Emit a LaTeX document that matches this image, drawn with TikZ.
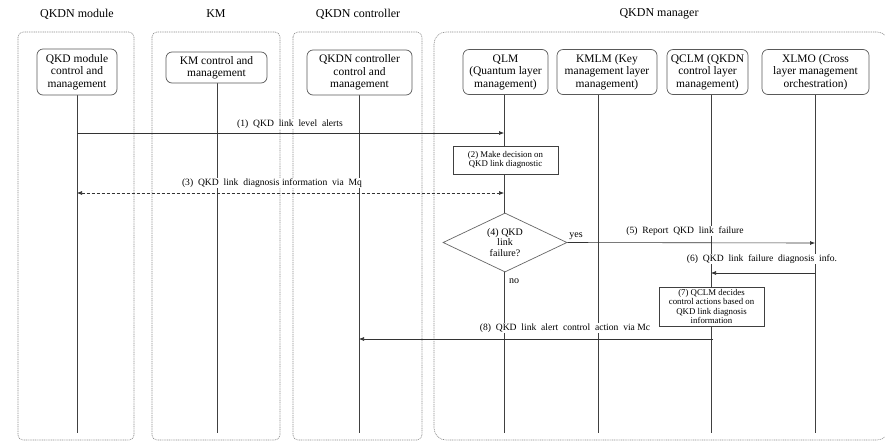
\documentclass[tikz,border=0pt]{standalone}
\usepackage{fontspec}
\setmainfont{Liberation Serif}
\usetikzlibrary{arrows.meta,shapes.geometric}

\begin{document}
\begin{tikzpicture}[x=1pt,y=-1pt,
  frame/.style={draw=black!45,dash pattern=on 1pt off 0.8pt,line width=0.6pt,rounded corners=5pt},
  actor/.style={draw=black!65,line width=0.7pt,rounded corners=6pt,fill=white,align=center,
    inner sep=0pt,font=\fontsize{11.5}{12.5}\selectfont},
  title/.style={font=\fontsize{12}{14}\selectfont},
  life/.style={draw=black!75,line width=0.6pt},
  msg/.style={draw=black!80,line width=0.6pt,-{Latex[length=5pt,width=4pt]}},
  lbl/.style={fill=white,inner sep=1pt,font=\fontsize{9.6}{11}\selectfont},
  stepbox/.style={draw=black!75,line width=0.6pt,fill=white,align=center,inner sep=0pt,
    font=\fontsize{8.8}{9.5}\selectfont}
]
\useasboundingbox (0,0) rectangle (885,440);
\fill[white] (0,0) rectangle (885,440);

% swim-lane frames
\draw[frame] (18,32) rectangle (134,440);
\draw[frame] (152,32) rectangle (280,440);
\draw[frame] (293,32) rectangle (422,440);
\draw[frame,rounded corners=12pt] (434,32) rectangle (889,440);

% lane titles
\node[title] (t1) at (77,14) {QKDN module};
\node[title] (t2) at (216,14) {KM};
\node[title] (t3) at (358,14) {QKDN controller};
\node[title] (t4) at (659,14) {QKDN manager};

% lifeline ends
\coordinate (bot) at (0,433);
\coordinate (kmlmtop) at (598,94);
\coordinate (qclmtop) at (711,95);

% lifelines
\draw[life] (77,95) -- (77,433);
\draw[life] (217,83) -- (217,433);
\draw[life] (359,95) -- (359,433);
\draw[life] (504,95) -- (504,433);
\draw[life] (kmlmtop) -- (kmlmtop|-bot);
\draw[life] (qclmtop) -- (qclmtop|-bot);
\draw[life] (815,95) -- (815,433);

% actors
\node[actor,minimum width=80pt,minimum height=46pt] (qkdm) at (77,72) {QKD module\\control and\\management};
\node[actor,minimum width=101pt,minimum height=31pt] (km) at (216.5,67.5) {KM control and\\management};
\node[actor,minimum width=105pt,minimum height=45pt] (ctrl) at (359.5,72.5) {QKDN controller\\control and\\management};
\node[actor,minimum width=85pt,minimum height=45pt] (qlm) at (505.5,72) {QLM\\(Quantum layer\\management)};
\node[actor,minimum width=100pt,minimum height=45pt] (kmlm) at (607,72) {KMLM (Key\\management layer\\management)};
\node[actor,minimum width=81pt,minimum height=45pt] (qclm) at (707.5,72) {QCLM (QKDN\\control layer\\management)};
\node[actor,minimum width=107pt,minimum height=45pt] (xlmo) at (815.5,72) {XLMO (Cross\\layer management\\orchestration)};

% anchor points on the lifelines
\coordinate (m1a) at (77,133);
\coordinate (m1b) at (504,133);
\coordinate (m3a) at (77,193);
\coordinate (m3b) at (504,193);
\coordinate (m5b) at (815,243);
\coordinate (m6a) at (815,273);
\coordinate (m6b) at (711,273);
\coordinate (m8a) at (713,339);
\coordinate (m8b) at (359,339);

% decision steps
\node[stepbox,minimum width=105pt,minimum height=28pt] (s2) at (505.5,160) {(2) Make decision on\\QKD link diagnostic};
\node[diamond,draw=black!60,line width=0.7pt,fill=white,aspect=2.1,minimum width=124pt,minimum height=59pt,
  inner sep=0pt,align=center,font=\fontsize{10}{10.5}\selectfont] (s4) at (505,242.5) {(4) QKD\\link\\failure?};
\node[stepbox,minimum width=105pt,minimum height=39pt] (s7) at (711.5,306.5) {(7) QCLM decides\\control actions based on\\QKD link diagnosis\\information};

% messages
\draw[msg] (m1a) -- (m1b);
\node[lbl] (l1) at (290,124) {(1)\ \ QKD\ \ link\ \ level\ \ alerts};

\draw[msg,{Latex[length=5pt,width=4pt]}-{Latex[length=5pt,width=4pt]},dash pattern=on 3pt off 2pt] (m3a) -- (m3b);
\node[lbl] (l3) at (272,183) {(3)\ \ QKD\ \ link\ \ diagnosis information\ \ via\ \ Mq};

\draw[msg] (s4.east) -- (m5b);
\node[lbl] (l5) at (685,231) {(5)\ \ Report\ \ QKD\ \ link\ \ failure};
\node[lbl,font=\fontsize{10}{11}\selectfont] (yes) at (576,236) {yes};
\node[lbl,font=\fontsize{10}{11}\selectfont] (no) at (514,281) {no};

\draw[msg] (m6a) -- (m6b);
\node[lbl] (l6) at (762,259) {(6)\ \ QKD\ \ link\ \ failure\ \ diagnosis\ \ info.};

\draw[msg] (m8a) -- (m8b);
\node[lbl] (l8) at (565,328) {(8)\ \ QKD\ \ link\ \ alert\ \ control\ \ action\ \ via\ Mc};
\end{tikzpicture}
\end{document}
